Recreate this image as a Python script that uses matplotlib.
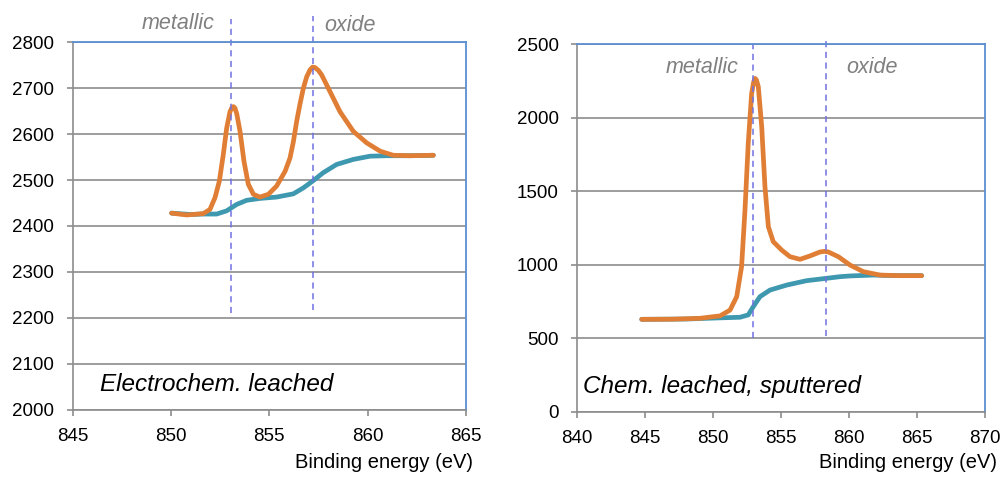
import matplotlib
matplotlib.use("Agg")
import matplotlib.pyplot as plt

plt.rcParams['font.family'] = ['Liberation Sans', 'DejaVu Sans']

ORANGE = '#E07E35'
TEAL = '#3E98AF'
GRID = '#8C8C8C'
BORDER = '#5B8FD0'
DASH = '#7070E0'

# left panel: electrochemically leached
left_x = [850.03, 850.8, 851.64, 851.98, 852.24, 852.46, 852.66, 852.83, 853.0,
          853.1, 853.17, 853.25, 853.34, 853.51, 853.71, 853.93, 854.19, 854.52,
          854.95, 855.37, 855.8, 856.05, 856.22, 856.39, 856.56, 856.73, 856.9,
          857.07, 857.2, 857.32, 857.49, 857.66, 858.08, 858.59, 859.27, 859.95,
          860.63, 861.3, 862.15, 863.34]
left_y = [2428, 2424, 2427, 2436, 2462, 2498, 2556, 2613, 2649,
          2658, 2660, 2657, 2645, 2606, 2541, 2491, 2469, 2463,
          2469, 2487, 2519, 2548, 2583, 2628, 2666, 2700, 2725,
          2740, 2746, 2745, 2739, 2729, 2693, 2649, 2606, 2581,
          2563, 2554, 2553, 2554]
left_bg_x = [850.03, 851.0, 851.64, 852.32, 852.83, 853.34, 853.85, 854.52, 855.37,
             856.22, 856.73, 857.24, 857.74, 858.42, 859.27, 860.12, 860.97, 862.15,
             863.34]
left_bg_y = [2428, 2425, 2426, 2426, 2433, 2447, 2456, 2460, 2463,
             2470, 2483, 2499, 2516, 2534, 2545, 2552, 2553, 2553,
             2554]

# right panel: chemically leached, sputtered
right_x = [844.74, 847.0, 849.03, 850.0, 850.5, 851.24, 851.73, 852.09, 852.34,
           852.58, 852.83, 852.98, 853.08, 853.18, 853.32, 853.57, 853.81, 854.06,
           854.42, 855.04, 855.65, 856.39, 857.12, 857.86, 858.17, 858.47, 859.21,
           860.07, 861.05, 862.27, 863.74, 865.34]
right_y = [630, 631, 637, 648, 653, 693, 784, 988, 1373,
           1827, 2166, 2245, 2268, 2258, 2212, 1940, 1532, 1260,
           1158, 1101, 1056, 1038, 1061, 1088, 1092, 1088, 1056,
           999, 954, 931, 927, 927]
right_bg_x = [844.74, 848.0, 850.5, 851.97, 852.58, 852.95, 853.44, 854.18, 855.41,
              856.88, 858.35, 859.33, 860.07, 861.78, 862.5, 863.74, 865.34]
right_bg_y = [630, 632, 640, 644, 660, 716, 784, 829, 863,
              893, 909, 920, 925, 931, 929, 927, 927]


def style_axes(ax, xlim, ylim, xticks, yticks):
    ax.set_xlim(*xlim)
    ax.set_ylim(*ylim)
    ax.set_xticks(xticks)
    ax.set_yticks(yticks)
    ax.grid(axis='y', color=GRID, linewidth=1.2)
    ax.set_axisbelow(True)
    for side in ('top', 'right'):
        ax.spines[side].set_color(BORDER)
        ax.spines[side].set_linewidth(1.3)
    for side in ('left', 'bottom'):
        ax.spines[side].set_color(GRID)
        ax.spines[side].set_linewidth(1.2)
    ax.tick_params(direction='out', length=4.3, width=1.2, color=GRID,
                   labelsize=13.5, pad=9, labelcolor='black')


def draw_curve(ax, x, y, color):
    ax.plot(x, y, color=color, linewidth=3.4, solid_capstyle='round',
            solid_joinstyle='round')


fig = plt.figure(figsize=(10.05, 4.79), dpi=100)

ax1 = fig.add_axes([0.0723, 0.1447, 0.3914, 0.767])
style_axes(ax1, (845, 865), (2000, 2800), range(845, 866, 5), range(2000, 2801, 100))
draw_curve(ax1, left_bg_x, left_bg_y, TEAL)
draw_curve(ax1, left_x, left_y, ORANGE)
ax1.plot([853.05, 853.05], [2210, 2851], color=DASH, linestyle=(0, (4, 3)),
         linewidth=1.1, clip_on=False)
ax1.plot([857.2, 857.2], [2217, 2858], color=DASH, linestyle=(0, (4, 3)),
         linewidth=1.1, clip_on=False)
ax1.text(848.5, 2842, 'metallic', color='#808080', style='italic', fontsize=15.5,
         ha='left', va='center', clip_on=False)
ax1.text(857.8, 2837, 'oxide', color='#808080', style='italic', fontsize=15.5,
         ha='left', va='center', clip_on=False)
ax1.text(846.4, 2055, 'Electrochem. leached', style='italic', fontsize=17.5,
         ha='left', va='center')

ax2 = fig.add_axes([0.5744, 0.1399, 0.4057, 0.7676])
style_axes(ax2, (840, 870), (0, 2500), range(840, 871, 5), range(0, 2501, 500))
draw_curve(ax2, right_bg_x, right_bg_y, TEAL)
draw_curve(ax2, right_x, right_y, ORANGE)
ax2.plot([852.95, 852.95], [500, 2500], color=DASH, linestyle=(0, (4, 3)),
         linewidth=1.1, clip_on=False)
ax2.plot([858.3, 858.3], [520, 2530], color=DASH, linestyle=(0, (4, 3)),
         linewidth=1.1, clip_on=False)
ax2.text(846.5, 2345, 'metallic', color='#808080', style='italic', fontsize=15.5,
         ha='left', va='center')
ax2.text(859.8, 2345, 'oxide', color='#808080', style='italic', fontsize=15.5,
         ha='left', va='center')
ax2.text(840.4, 170, 'Chem. leached, sputtered', style='italic', fontsize=17.5,
         ha='left', va='center')

fig.text(473 / 1005, 1 - 463 / 479, 'Binding energy (eV)', fontsize=14.5,
         ha='right', va='center')
fig.text(997 / 1005, 1 - 463 / 479, 'Binding energy (eV)', fontsize=14.5,
         ha='right', va='center')

fig.savefig('out.png', dpi=100)
